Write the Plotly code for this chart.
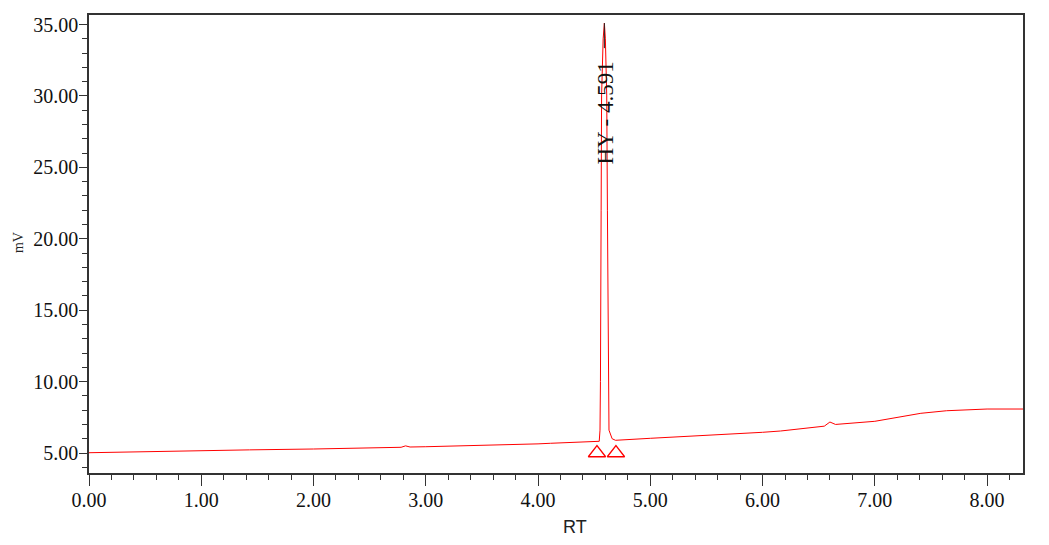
import plotly.graph_objects as go

# Chromatogram trace (RT in min, signal in mV)
rt = [0.00, 0.50, 1.00, 1.43, 2.00, 2.33, 2.78, 2.82, 2.86, 3.00, 3.50, 4.00, 4.11,
      4.40, 4.52, 4.545, 4.552, 4.556, 4.562, 4.566, 4.580, 4.591,
      4.600, 4.612, 4.618, 4.625, 4.632, 4.660, 4.690,
      5.00, 5.50, 6.00, 6.16, 6.40, 6.55, 6.60, 6.65, 7.00, 7.41, 7.64, 8.00, 8.32]
mv = [5.02, 5.10, 5.17, 5.22, 5.28, 5.33, 5.40, 5.50, 5.42, 5.44, 5.52, 5.64, 5.68,
      5.75, 5.79, 5.82, 6.6, 10.0, 22.0, 30.0, 34.0, 35.1,
      34.0, 30.0, 22.0, 10.0, 6.6, 6.0, 5.89,
      6.03, 6.22, 6.45, 6.54, 6.72, 6.88, 7.17, 7.00, 7.22, 7.78, 7.96, 8.08, 8.08]

# apex tip (drawn dark in the reference)
apex_rt = [4.591, 4.591]
apex_mv = [33.35, 35.1]

# peak start / end markers
peak_marks_rt = [4.525, 4.694]
peak_marks_mv = [5.0, 5.0]

peak_label = "HY - 4.591"
peak_label_rt = 4.60
peak_label_mv = 28.8

x_tick_vals = [0, 1, 2, 3, 4, 5, 6, 7, 8]
x_tick_text = ["0.00", "1.00", "2.00", "3.00", "4.00", "5.00", "6.00", "7.00", "8.00"]
y_tick_vals = [5, 10, 15, 20, 25, 30, 35]
y_tick_text = ["5.00", "10.00", "15.00", "20.00", "25.00", "30.00", "35.00"]

serif = "Liberation Serif, Times New Roman, serif"
axis_col = "#333333"

fig = go.Figure()
fig.add_trace(go.Scatter(x=rt, y=mv, mode="lines",
                         line=dict(color="#ff0000", width=1), hoverinfo="skip"))
fig.add_trace(go.Scatter(x=apex_rt, y=apex_mv, mode="lines",
                         line=dict(color="#222222", width=1), hoverinfo="skip"))
fig.add_trace(go.Scatter(x=peak_marks_rt, y=peak_marks_mv, mode="markers",
                         marker=dict(symbol="triangle-up-open", size=15,
                                     color="#ff0000", line=dict(width=1.3, color="#ff0000")),
                         hoverinfo="skip"))

fig.add_annotation(x=peak_label_rt, y=peak_label_mv, text=peak_label, textangle=-90,
                   showarrow=False, font=dict(family=serif, size=23, color="#111111"))
fig.add_annotation(x=0.52, y=-0.118, xref="paper", yref="paper", text="RT",
                   showarrow=False, xanchor="center", yanchor="middle",
                   font=dict(family="Liberation Sans, Arial, sans-serif", size=18, color="#222222"))
fig.add_annotation(x=-0.076, y=0.502, xref="paper", yref="paper", text="mV", textangle=-90,
                   showarrow=False, xanchor="center", yanchor="middle", borderpad=0,
                   font=dict(family=serif, size=14, color="#222222"))

fig.update_layout(
    template="none",
    width=1041, height=537,
    margin=dict(l=81, r=26, t=7, b=72),
    paper_bgcolor="white", plot_bgcolor="white",
    showlegend=False,
    xaxis=dict(range=[0, 8.32], tickvals=x_tick_vals, ticktext=x_tick_text,
               automargin=False,
               ticks="outside", ticklen=11, tickwidth=1.3, tickcolor=axis_col,
               minor=dict(dtick=0.2, tick0=0, ticks="outside", ticklen=5,
                          tickwidth=1.3, tickcolor=axis_col, showgrid=False),
               showline=True, linecolor=axis_col, linewidth=1.5, mirror=True,
               showgrid=False, zeroline=False, ticklabelstandoff=-3,
               tickfont=dict(family=serif, size=20, color="#111111")),
    yaxis=dict(range=[3.6, 35.67], tickvals=y_tick_vals, ticktext=y_tick_text,
               automargin=False,
               ticks="outside", ticklen=8, tickwidth=1.3, tickcolor=axis_col,
               minor=dict(dtick=1, tick0=0, ticks="outside", ticklen=5,
                          tickwidth=1.3, tickcolor=axis_col, showgrid=False),
               showline=True, linecolor=axis_col, linewidth=1.5, mirror=True,
               showgrid=False, zeroline=False, ticklabelstandoff=-3,
               tickfont=dict(family=serif, size=20, color="#111111")),
)

fig.write_html("out.html")
